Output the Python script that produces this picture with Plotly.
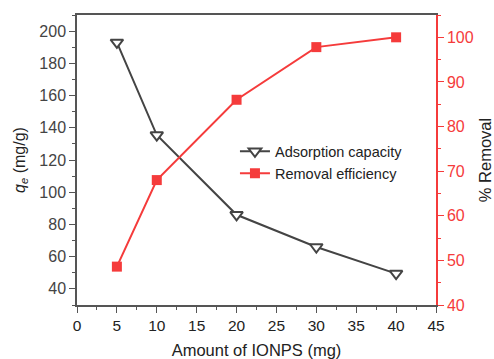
import plotly.graph_objects as go

amount_mg = [5, 10, 20, 30, 40]
adsorption_capacity = [193, 135.5, 86, 66, 49.5]
removal_efficiency = [48.6, 68, 86, 97.8, 100]

x_ticks = [0, 5, 10, 15, 20, 25, 30, 35, 40, 45]
left_ticks = [40, 60, 80, 100, 120, 140, 160, 180, 200]
right_ticks = [40, 50, 60, 70, 80, 90, 100]

GRAY = "#444444"
RED = "#f53b3b"
AXC = "#555555"
FONT = "Liberation Sans, Arial, sans-serif"

fig = go.Figure()
fig.add_trace(go.Scatter(
    x=amount_mg, y=adsorption_capacity, name="Adsorption capacity",
    mode="lines+markers", yaxis="y",
    line=dict(color=GRAY, width=2),
    marker=dict(symbol="triangle-down", size=11, color="white",
                line=dict(color=GRAY, width=2)),
))
fig.add_trace(go.Scatter(
    x=amount_mg, y=removal_efficiency, name="Removal efficiency",
    mode="lines+markers", yaxis="y2",
    line=dict(color=RED, width=2),
    marker=dict(symbol="square", size=10, color=RED, line=dict(width=0)),
))

fig.update_layout(
    width=494, height=359,
    margin=dict(l=77, r=58, t=15, b=54),
    paper_bgcolor="white", plot_bgcolor="white",
    font=dict(family=FONT, size=15, color="#333333"),
    showlegend=True,
    legend=dict(x=0.44, y=0.585, xanchor="left", yanchor="top",
                bgcolor="rgba(0,0,0,0)", font=dict(size=14.5, color="#222222"),
                itemwidth=30, tracegroupgap=0),
    xaxis=dict(
        range=[0, 45], tickvals=x_ticks, ticktext=[str(v) for v in x_ticks],
        showline=True, linecolor=AXC, linewidth=1.5, mirror=True,
        ticks="outside", ticklen=6, tickwidth=1.3, tickcolor=AXC,
        minor=dict(dtick=2.5, ticks="outside", ticklen=3, tickcolor=AXC, tickwidth=1),
        showgrid=False, zeroline=False, automargin=False,
        title=dict(text="Amount of IONPS (mg)", font=dict(size=16.5, color="#222222"), standoff=12),
        tickfont=dict(size=15.5, color="#222222"),
    ),
    xaxis2=dict(
        range=[0, 45], overlaying="x", side="top", anchor="y",
        tickvals=x_ticks, showticklabels=False,
        ticks="inside", ticklen=5, tickcolor=AXC, tickwidth=1.3,
        showline=False, showgrid=False, zeroline=False, automargin=False,
    ),
    yaxis=dict(
        range=[30, 210], tickvals=left_ticks,
        showline=True, linecolor=AXC, linewidth=1.5,
        ticks="outside", ticklen=6, tickwidth=1.3, tickcolor=AXC,
        minor=dict(dtick=10, ticks="outside", ticklen=3, tickcolor=AXC, tickwidth=1),
        showgrid=False, zeroline=False, automargin=False,
        title=dict(text="<i>q</i><sub><i>e</i></sub> (mg/g)", font=dict(size=16, color="#222222"), standoff=10),
        tickfont=dict(size=16, color="#444444"),
    ),
    yaxis2=dict(
        range=[40, 105], tickvals=right_ticks, overlaying="y", side="right",
        showline=True, linecolor=RED, linewidth=1.5,
        ticks="outside", ticklen=6, tickwidth=1.3, tickcolor=RED,
        minor=dict(dtick=5, ticks="outside", ticklen=3, tickcolor=RED, tickwidth=1),
        showgrid=False, zeroline=False, automargin=False,
        title=dict(text="% Removal", font=dict(size=16.5, color="#222222"), standoff=10),
        tickfont=dict(size=16, color=RED),
    ),
)

fig.write_html("out.html")
